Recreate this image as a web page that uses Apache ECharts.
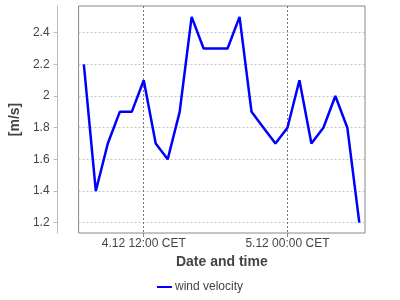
<!DOCTYPE html>
<html><head><meta charset="utf-8">
<script src="https://cdn.jsdelivr.net/npm/echarts@6/dist/echarts.min.js"></script>
<style>html,body{margin:0;padding:0;background:#fff}#c{width:400px;height:300px}</style>
</head><body><div id="c"></div>
<script>
// Hourly timestamps, hours counted from 4.12 00:00
const hours = [7,8,9,10,11,12,13,14,15,16,17,18,19,20,21,22,23,24,25,26,27,28,29,30];
const windVelocity = [2.2,1.4,1.7,1.9,1.9,2.1,1.7,1.6,1.9,2.5,2.3,2.3,2.3,2.5,1.9,1.8,1.7,1.8,2.1,1.7,1.8,2.0,1.8,1.2];
const xTickHours = [12,24];
const xTickLabels = ['4.12 12:00 CET','5.12 00:00 CET'];
const yTicks = [1.2,1.4,1.6,1.8,2.0,2.2,2.4];

const FONT = 'Liberation Sans, Arial, sans-serif';
const chart = echarts.init(document.getElementById('c'), null, {renderer:'canvas'});
chart.setOption({
  animation:false,
  textStyle:{fontFamily:FONT},
  grid:{left:78,right:35,top:6,bottom:67,show:true,borderColor:'#888',borderWidth:1,backgroundColor:'#fff'},
  xAxis:{
    type:'value', min:6.56, max:30.475,
    name:'Date and time', nameLocation:'middle', nameGap:20,
    nameTextStyle:{fontFamily:FONT,fontWeight:'bold',fontSize:14,color:'#444'},
    axisLine:{show:false},
    axisTick:{show:true,length:4,customValues:xTickHours,lineStyle:{color:'#888'}},
    axisLabel:{customValues:xTickHours,margin:5,fontSize:12,color:'#444',fontFamily:FONT,
      formatter:function(v){const i=xTickHours.indexOf(Math.round(v));return i>=0?xTickLabels[i]:'';}},
    splitLine:{show:true,lineStyle:{color:'#777',type:[2,2],width:1}}
  },
  yAxis:{
    type:'value', min:1.135, max:2.5686, offset:21,
    name:'[m/s]', nameLocation:'middle', nameGap:25, nameRotate:90,
    nameTextStyle:{fontFamily:FONT,fontWeight:'bold',fontSize:14,color:'#444'},
    axisLine:{show:true,lineStyle:{color:'#bbb'}},
    axisTick:{show:true,length:4,customValues:yTicks,lineStyle:{color:'#bbb'}},
    axisLabel:{customValues:yTicks,margin:8,fontSize:12,color:'#444',fontFamily:FONT,
      formatter:function(v){return String(Math.round(v*10)/10);}},
    splitLine:{show:true,lineStyle:{color:'#c4c4c4',type:[2,2],width:1}}
  },
  legend:{
    bottom:2,left:'center',icon:'rect',itemWidth:15,itemHeight:2,itemGap:10,
    textStyle:{fontFamily:FONT,fontSize:12,color:'#444',padding:[0,0,0,-2]},
    data:['wind velocity']
  },
  series:[{
    name:'wind velocity', type:'line', showSymbol:false,
    data:hours.map((h,i)=>[h,windVelocity[i]]),
    lineStyle:{color:'#0000ff',width:2.5}, itemStyle:{color:'#0000ff'}
  }]
});
</script></body></html>
